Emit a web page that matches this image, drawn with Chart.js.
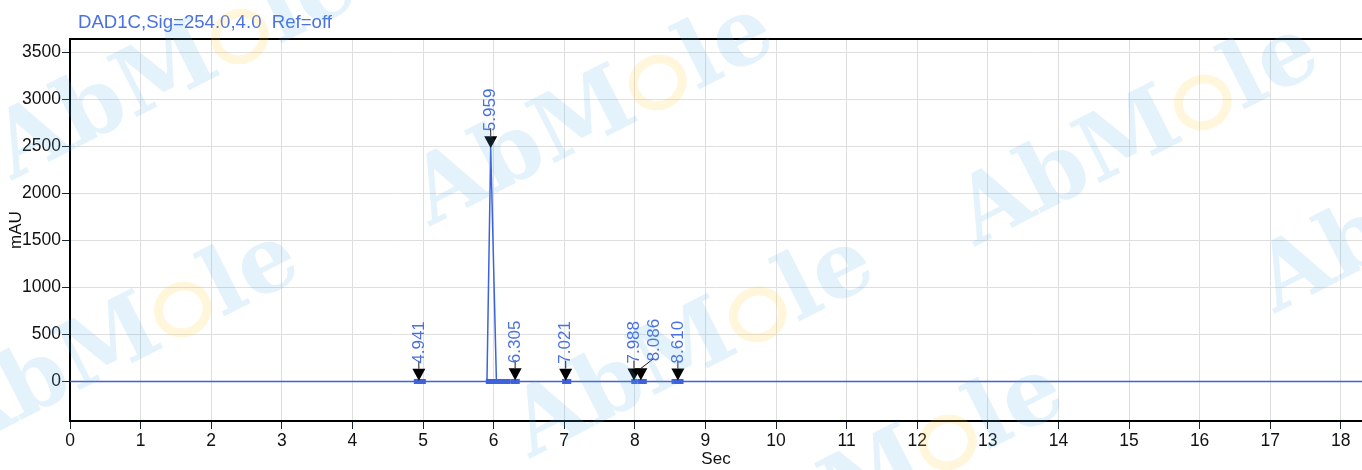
<!DOCTYPE html>
<html>
<head>
<meta charset="utf-8">
<script src="https://cdn.jsdelivr.net/npm/chart.js@4.4.1/dist/chart.umd.min.js"></script>
<style>
    html, body { margin: 0; padding: 0; background: #fff; }
</style>
</head>
<body>
<canvas id="chart0" width="1362" height="470"></canvas>
<script>
// signal header
const signalTitle = 'DAD1C,Sig=254.0,4.0  Ref=off';

// trace
const timeSec   = [0, 4.86, 4.941, 5.03, 5.906, 5.959, 6.04, 6.25, 6.305, 6.37, 6.97, 7.021, 7.10, 7.95, 7.988, 8.04, 8.086, 8.17, 8.52, 8.610, 8.69, 18.3];
const signalMAU = [0, 0, 8, 0, 0, 2490, 0, 0, 14, 0, 0, 9, 0, 0, 10, 4, 12, 0, 0, 11, 0, 0];

// integrated peaks
const peakTimes   = [4.941, 5.959, 6.305, 7.021, 7.988, 8.086, 8.610];
const peakHeights = [8, 2480, 14, 9, 10, 12, 11];
const peakStart   = [4.87, 5.89, 6.24, 6.97, 7.95, 8.04, 8.52];
const peakEnd     = [5.04, 6.24, 6.37, 7.10, 8.04, 8.17, 8.69];
const peakLabels  = ['4.941', '5.959', '6.305', '7.021', '7.988', '8.086', '8.610'];

// axes
const xTicks = [0, 1, 2, 3, 4, 5, 6, 7, 8, 9, 10, 11, 12, 13, 14, 15, 16, 17, 18];
const yTicks = [0, 500, 1000, 1500, 2000, 2500, 3000, 3500];

const FONT = '"Liberation Sans", Arial, sans-serif';
const BLUE = '#3d62dc';
const LABEL_BLUE = '#4a70e2';

const canvas0 = document.getElementById('chart0');
const ctx0 = canvas0.getContext('2d');

const watermarkPlugin = {
    id: 'watermark',
    afterDraw(chart) {
        const ctx = chart.ctx;
        const spots = [[172, 62], [590, 108], [1135, 128], [115, 335], [690, 340], [1435, 195], [880, 468]];
        ctx.save();
        ctx.font = 'bold 92px "DejaVu Serif"';
        ctx.textBaseline = 'alphabetic';
        const wA = ctx.measureText('AbM').width;
        const wO = ctx.measureText('o').width;
        const wL = ctx.measureText('le').width;
        const total = wA + wO + wL;
        spots.forEach(([cx, cy]) => {
            ctx.save();
            ctx.translate(cx, cy);
            ctx.rotate(-27 * Math.PI / 180);
            const x0 = -total / 2;
            const base = 33;
            ctx.fillStyle = 'rgba(80,175,230,0.16)';
            ctx.fillText('AbM', x0, base);
            ctx.fillText('le', x0 + wA + wO, base);
            // yellow ring for the "o"
            ctx.strokeStyle = 'rgba(255,200,40,0.16)';
            ctx.lineWidth = 9;
            ctx.beginPath();
            ctx.ellipse(x0 + wA + wO / 2, base - 25, wO / 2 - 6, 23, 0, 0, Math.PI * 2);
            ctx.stroke();
            ctx.restore();
        });
        ctx.restore();
    }
};

const framePlugin = {
    id: 'frame',
    afterDraw(chart) {
        const ctx = chart.ctx;
        const a = chart.chartArea;
        ctx.save();
        ctx.strokeStyle = '#000';
        ctx.lineWidth = 2;
        ctx.beginPath();
        ctx.moveTo(a.left - 1, a.top);
        ctx.lineTo(chart.width, a.top);
        ctx.stroke();
        ctx.fillStyle = LABEL_BLUE;
        ctx.font = '18.6px ' + FONT;
        ctx.textBaseline = 'alphabetic';
        ctx.textAlign = 'left';
        ctx.fillText(signalTitle, a.left + 8, 27.7);
        ctx.restore();
    }
};

const peakPlugin = {
    id: 'peaks',
    afterDatasetsDraw(chart) {
        const ctx = chart.ctx;
        const xs = chart.scales.x;
        const ys = chart.scales.y;
        const y0 = ys.getPixelForValue(0);
        ctx.save();
        // baseline segments
        ctx.fillStyle = BLUE;
        for (let i = 0; i < peakTimes.length; i++) {
            const x1 = xs.getPixelForValue(peakStart[i]);
            const x2 = xs.getPixelForValue(peakEnd[i]);
            ctx.fillRect(x1, y0 - 2.5, x2 - x1, 5);
        }
        let prevLabelX = -100;
        for (let i = 0; i < peakTimes.length; i++) {
            const x = xs.getPixelForValue(peakTimes[i]);
            const tip = ys.getPixelForValue(peakHeights[i]);
            const top = tip - 12;
            let lx = x;
            if (lx - prevLabelX < 17) lx = prevLabelX + 20;
            prevLabelX = lx;
            const ly = lx === x ? top - 8 : top - 10;
            // leader
            ctx.strokeStyle = '#1a1a1a';
            ctx.lineWidth = 1;
            ctx.beginPath();
            ctx.moveTo(x, top);
            ctx.lineTo(lx, ly);
            ctx.stroke();
            // triangle
            ctx.fillStyle = '#000';
            ctx.beginPath();
            ctx.moveTo(x - 6.5, top);
            ctx.lineTo(x + 6.5, top);
            ctx.lineTo(x, tip);
            ctx.closePath();
            ctx.fill();
            // label
            ctx.save();
            ctx.translate(lx, ly + 3);
            ctx.rotate(-Math.PI / 2);
            ctx.fillStyle = LABEL_BLUE;
            ctx.font = '17px ' + FONT;
            ctx.textAlign = 'left';
            ctx.textBaseline = 'middle';
            ctx.fillText(peakLabels[i], 0, 0);
            ctx.restore();
        }
        ctx.restore();
    }
};

const points = timeSec.map((t, i) => ({ x: t, y: signalMAU[i] }));

const chart0 = new Chart(ctx0, {
    type: 'line',
    data: {
        datasets: [{
            label: signalTitle,
            data: points,
            borderColor: BLUE,
            backgroundColor: BLUE,
            borderWidth: 1.5,
            pointRadius: 0,
            tension: 0,
        }]
    },
    options: {
        responsive: false,
        animation: false,
        layout: { padding: { top: 39, right: 0, left: 0, bottom: 0 } },
        plugins: {
            legend: { display: false },
            title: { display: false },
            tooltip: { enabled: false },
        },
        scales: {
            x: {
                type: 'linear',
                min: 0,
                max: 18.3,
                afterBuildTicks: s => { s.ticks = xTicks.map(v => ({ value: v })); },
                afterFit: s => { s.height = 49; },
                ticks: { autoSkip: false, maxRotation: 0, color: '#111', padding: 2, font: { family: FONT, size: 17.5 }, callback: v => String(v) },
                grid: { color: '#dedede', tickColor: '#1a2633', tickLength: 8 },
                border: { color: '#000', width: 2 },
                title: { display: true, text: 'Sec', color: '#111', font: { family: FONT, size: 17 }, padding: { top: 0, bottom: 0 } },
            },
            y: {
                min: -420,
                max: 3640,
                afterBuildTicks: s => { s.ticks = yTicks.map(v => ({ value: v })); },
                afterFit: s => { s.width = 70; },
                ticks: { color: '#111', padding: 1, font: { family: FONT, size: 17.5 }, callback: v => String(v) },
                grid: { color: '#dedede', tickColor: '#1a2633', tickLength: 8 },
                border: { color: '#000', width: 2 },
                title: { display: true, text: 'mAU', color: '#111', font: { family: FONT, size: 17 }, padding: { top: 6, bottom: 0 } },
            }
        }
    },
    plugins: [peakPlugin, framePlugin, watermarkPlugin]
});
</script>
</body>
</html>
